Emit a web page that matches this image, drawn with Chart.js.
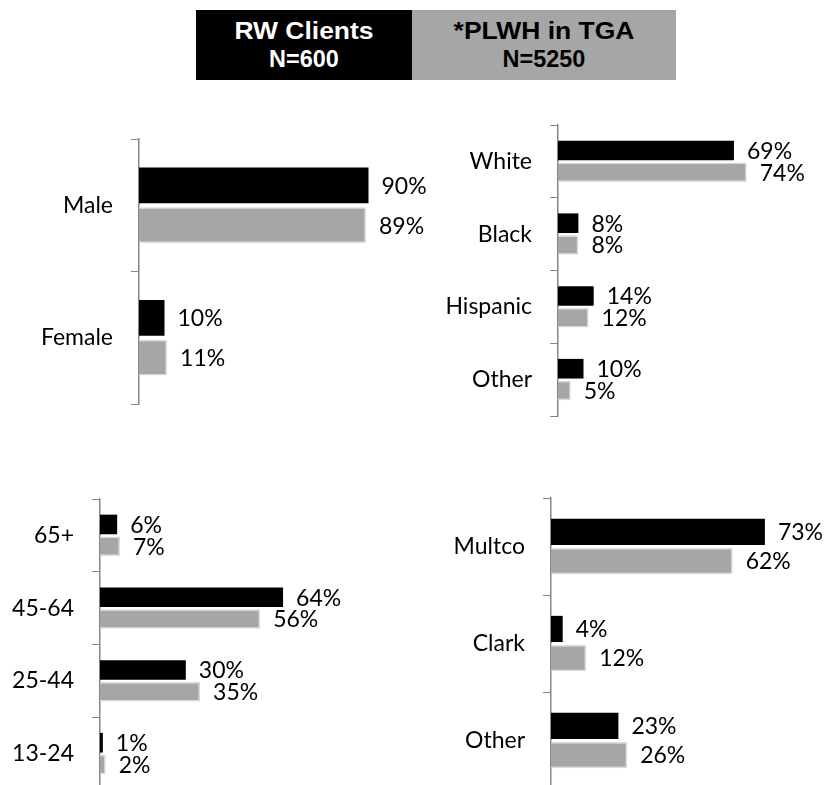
<!DOCTYPE html>
<html lang="en">
<head>
    <meta charset="UTF-8">
    <title>RW Clients vs PLWH in TGA</title>
    <script src="https://cdn.jsdelivr.net/npm/chart.js"></script>
    <style>
        body {
            margin: 0;
            width: 830px;
            height: 785px;
            overflow: hidden;
            background: #fff;
            position: relative;
        }
        canvas {
            position: absolute;
        }

        /* legend boxes at the top */
        .key {
            position: absolute;
            top: 10px;
            height: 70px;
            font-family: "Liberation Sans", Arial, sans-serif;
            font-weight: bold;
            font-size: 23px;
        }
        .key div {
            position: absolute;
            left: 0;
            width: 100%;
            text-align: center;
            line-height: 23px;
        }
        .key .l1 { top: 9.5px; transform: scaleX(1.15); }
        .key .l2 { top: 37.5px; transform: scaleX(1.02); }
        #keyRW { left: 196px; width: 216px; background: #000; color: #fff; }
        #keyTGA { left: 412px; width: 264px; background: #a6a6a6; color: #000; }
    </style>
</head>
<body>
    <div class="key" id="keyRW"><div class="l1">RW Clients</div><div class="l2">N=600</div></div>
    <div class="key" id="keyTGA"><div class="l1">*PLWH in TGA</div><div class="l2">N=5250</div></div>

    <canvas id="sexChart" width="464" height="269" style="left:0px; top:137px;"></canvas>
    <canvas id="raceChart" width="423" height="295" style="left:430px; top:123px;"></canvas>
    <canvas id="ageChart" width="446" height="295" style="left:0px; top:497px;"></canvas>
    <canvas id="countyChart" width="454" height="295" style="left:420px; top:496px;"></canvas>

    <script>
        // Sex
        const sexLabels = ['Male', 'Female'];
        const sexRW = [90, 10];
        const sexPLWH = [89, 11];

        // Race / ethnicity
        const raceLabels = ['White', 'Black', 'Hispanic', 'Other'];
        const raceRW = [69, 8, 14, 10];
        const racePLWH = [74, 8, 12, 5];

        // Age group
        const ageLabels = ['65+', '45-64', '25-44', '13-24'];
        const ageRW = [6, 64, 30, 1];
        const agePLWH = [7, 56, 35, 2];

        // County
        const countyLabels = ['Multco', 'Clark', 'Other'];
        const countyRW = [73, 4, 23];
        const countyPLWH = [62, 12, 26];

        const FONT = 'Lato, "Open Sans", sans-serif';
        const AXIS_GRAY = '#868686';

        // draws the "90%" style labels to the right of every bar
        const valueLabels = {
            id: 'valueLabels',
            afterDatasetsDraw(chart) {
                const ctx = chart.ctx;
                ctx.save();
                ctx.font = '23px ' + FONT;
                ctx.fillStyle = '#000';
                ctx.textAlign = 'left';
                ctx.textBaseline = 'middle';
                chart.data.datasets.forEach((ds, i) => {
                    chart.getDatasetMeta(i).data.forEach((bar, j) => {
                        ctx.fillText(ds.data[j] + '%', bar.x + 13, bar.y + 1);
                    });
                });
                ctx.restore();
            }
        };

        function makeChart(id, labels, rw, plwh, labelWidth, padRight) {
            const ctx = document.getElementById(id).getContext('2d');
            return new Chart(ctx, {
                type: 'bar',
                data: {
                    labels: labels,
                    datasets: [{
                        label: 'RW Clients',
                        data: rw,
                        backgroundColor: '#000000',
                        borderWidth: 0,
                        categoryPercentage: 0.6,
                        barPercentage: 0.9
                    }, {
                        label: '*PLWH in TGA',
                        data: plwh,
                        backgroundColor: '#a6a6a6',
                        borderColor: '#d9d9d9',
                        borderWidth: 1.5,
                        categoryPercentage: 0.6,
                        barPercentage: 0.9
                    }]
                },
                options: {
                    indexAxis: 'y',
                    responsive: false,
                    animation: false,
                    layout: { padding: { top: 2, bottom: 2, left: 0, right: padRight } },
                    plugins: {
                        legend: { display: false },
                        tooltip: { enabled: false }
                    },
                    scales: {
                        x: {
                            display: false,
                            min: 0,
                            max: 100
                        },
                        y: {
                            offset: true,
                            afterFit(scale) {
                                // fixed label column, and no extra room above/below the axis
                                scale.width = labelWidth;
                                scale.paddingTop = 0;
                                scale.paddingBottom = 0;
                            },
                            grid: {
                                offset: true,
                                drawOnChartArea: false,
                                drawTicks: true,
                                tickLength: 8,
                                color: AXIS_GRAY,
                                lineWidth: 1
                            },
                            border: { color: AXIS_GRAY, width: 1.5 },
                            ticks: {
                                padding: 18,
                                color: '#000',
                                font: { family: FONT, size: 23 }
                            }
                        }
                    }
                },
                plugins: [valueLabels]
            });
        }

        document.fonts.load('23px Lato').finally(() => {
            makeChart('sexChart', sexLabels, sexRW, sexPLWH, 139, 70);
            makeChart('raceChart', raceLabels, raceRW, racePLWH, 128, 40);
            makeChart('ageChart', ageLabels, ageRW, agePLWH, 100, 60);
            makeChart('countyChart', countyLabels, countyRW, countyPLWH, 131, 30);
        });
    </script>
</body>
</html>
